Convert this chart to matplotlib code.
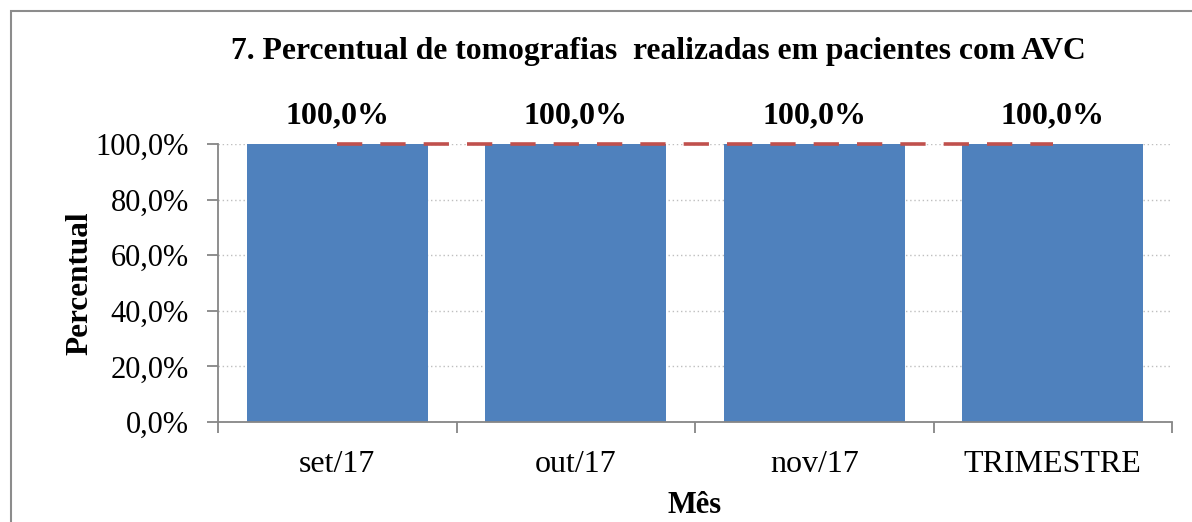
import numpy as np
import matplotlib.pyplot as plt
from matplotlib.patches import Rectangle
from matplotlib.ticker import FuncFormatter

# ---- dados ----
meses = ["set/17", "out/17", "nov/17", "TRIMESTRE"]
percentual = [1.0, 1.0, 1.0, 1.0]
meta = [1.0, 1.0, 1.0, 1.0]

plt.rcParams['font.family'] = ['Liberation Serif', 'DejaVu Serif']

fig = plt.figure(figsize=(11.92, 5.22), dpi=100)
ax = fig.add_axes([218 / 1192, 1 - 422 / 522, (1172 - 218) / 1192, (422 - 144) / 522])

x = np.arange(len(meses))
ax.bar(x, percentual, width=0.76, color='#4F81BD', zorder=2)
linha, = ax.plot(x, meta, color='#C0504D', lw=2.6, zorder=3, clip_on=False)
linha.set_dashes((7, 5))

for xi, v in zip(x, percentual):
    ax.annotate(f"{v * 100:.1f}%".replace('.', ','), (xi, v),
                xytext=(0, 20), textcoords='offset points',
                ha='center', va='center', fontsize=23, fontweight='bold')

ax.set_xlim(-0.5, len(meses) - 0.5)
ax.set_ylim(0, 1.0)
ax.set_yticks(np.arange(0, 1.01, 0.2))
ax.yaxis.set_major_formatter(FuncFormatter(lambda v, p: f"{v * 100:.1f}%".replace('.', ',')))
ax.set_xticks(np.arange(-0.5, len(meses), 1.0))
ax.set_xticklabels([])
ax.set_xticks(x, minor=True)
ax.set_xticklabels(meses, minor=True, fontsize=23)
ax.tick_params(axis='x', which='minor', length=0, pad=20)
ax.tick_params(axis='x', which='major', length=8, color='#868686', width=1.3)
ax.tick_params(axis='y', length=8, color='#868686', width=1.3, labelsize=22, pad=13)

ax.grid(axis='y', color='#BFBFBF', linestyle=(0, (1, 2)), lw=1, zorder=0)
for s in ['top', 'right']:
    ax.spines[s].set_visible(False)
for s in ['left', 'bottom']:
    ax.spines[s].set_color('#868686')
    ax.spines[s].set_linewidth(1.3)

ax.set_ylabel("Percentual", fontsize=22.5, fontweight='bold', labelpad=1)
ax.set_xlabel("Mês", fontsize=22, fontweight='bold', labelpad=9)
fig.text(0.552, 1 - 51 / 522, "7. Percentual de tomografias  realizadas em pacientes com AVC",
         ha='center', va='center', fontsize=22.8, fontweight='bold')

# moldura do gráfico
fig.patches.append(Rectangle((11 / 1192, -0.1), 1.2, 1 - 11 / 522 + 0.1,
                             transform=fig.transFigure, fill=False,
                             edgecolor='#8C8C8C', lw=1.5))

fig.savefig("out.png", dpi=100)
